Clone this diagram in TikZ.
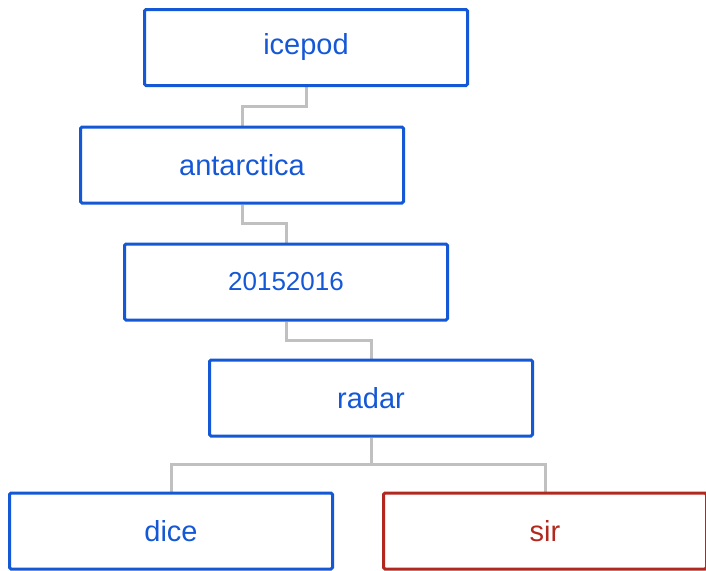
\documentclass[tikz,border=0pt]{standalone}
\usepackage{fontspec}
\setmainfont{Liberation Sans}
\usepackage{tikz}
\usetikzlibrary{backgrounds}
\definecolor{boxblue}{HTML}{1558D6}
\definecolor{boxred}{HTML}{B0281E}
\definecolor{linkgray}{HTML}{C0C0C0}
\begin{document}
\begin{tikzpicture}[x=1pt, y=-1pt,
    every node/.style={font=\fontsize{29}{33}\selectfont},
    dirbox/.style={draw=boxblue, text=boxblue, line width=3pt, rounded corners=1.5pt,
      minimum width=323pt, minimum height=76pt, inner sep=0pt},
    filebox/.style={dirbox, draw=boxred, text=boxred},
    link/.style={draw=linkgray, line width=3pt}]
  \useasboundingbox (0,0) rectangle (706,570);
  \node[dirbox] (icepod) at (306,47.5) {icepod};
  \node[dirbox] (antarctica) at (242,165) {antarctica};
  \node[dirbox, font=\fontsize{26}{30}\selectfont] (season) at (286,282) {20152016};
  \node[dirbox] (radar) at (371,398) {radar};
  \node[dirbox] (dice) at (171,531) {dice};
  \node[filebox] (sir) at (545,531) {sir};
  % elbow connectors, behind the boxes
  \begin{scope}[on background layer]
    \coordinate (m1) at (274,106);
    \coordinate (m2) at (264,223.5);
    \coordinate (m3) at (328.5,340);
    \coordinate (m4) at (371,464.5);
    \draw[link] (icepod.south) |- (m1) -| (antarctica.north);
    \draw[link] (antarctica.south) |- (m2) -| (season.north);
    \draw[link] (season.south) |- (m3) -| (radar.north);
    \draw[link] (radar.south) |- (m4) -| (dice.north);
    \draw[link] (radar.south) |- (m4) -| (sir.north);
  \end{scope}
\end{tikzpicture}
\end{document}
